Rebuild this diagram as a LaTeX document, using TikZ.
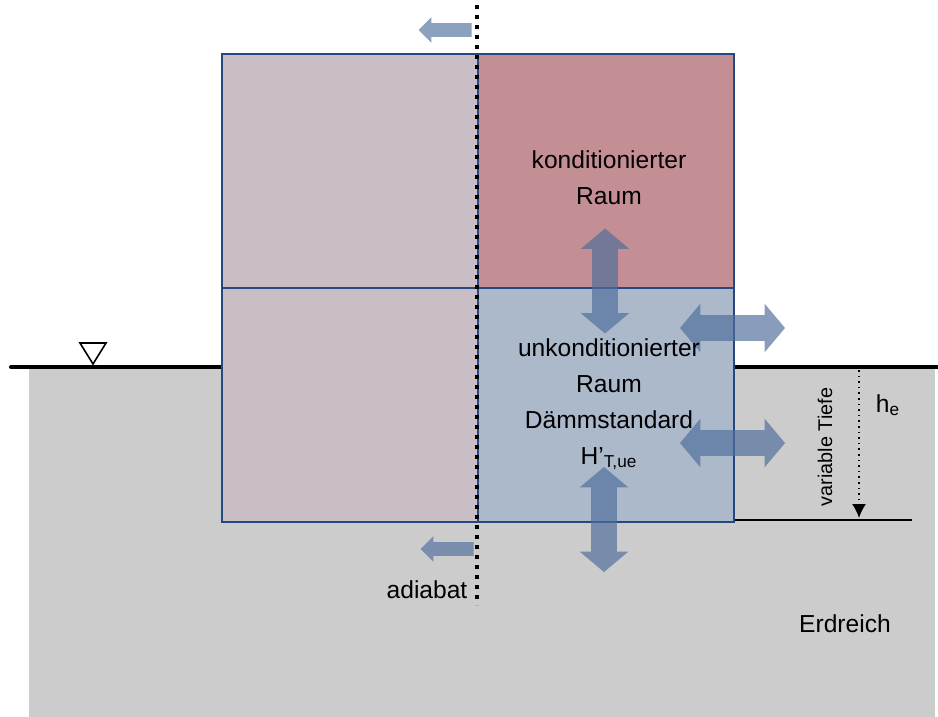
\documentclass[tikz,border=0pt]{standalone}
\usepackage{fontspec}
\setmainfont{Liberation Sans}
\usetikzlibrary{positioning, shapes.arrows, arrows.meta, calc}
\definecolor{wallblue}{RGB}{38,72,128}
\definecolor{roomgrey}{RGB}{202,190,198}
\definecolor{roomred}{RGB}{196,143,148}
\definecolor{roomblue}{RGB}{171,185,203}
\definecolor{soilgrey}{RGB}{204,204,204}
\definecolor{flowblue}{RGB}{78,110,155}

\begin{document}
\begin{tikzpicture}[x=0.5pt, y=-0.5pt,
	every node/.append style={font=\fontsize{12.3}{18}\selectfont, inner sep=0pt},
	cell/.style={draw=wallblue, line width=1pt, minimum width=128pt, minimum height=117pt, anchor=north west},
	flow/.style={double arrow, fill=flowblue, fill opacity=0.68, inner xsep=0pt, inner ysep=6.25pt, double arrow head extend=5.75pt, double arrow tip angle=100, minimum height=52.5pt},
	leak/.style={single arrow, fill=flowblue, fill opacity=0.65, inner xsep=0pt, inner ysep=3.25pt, single arrow head extend=3pt, minimum height=26.5pt, shape border rotate=180}]
	\useasboundingbox (0,0) rectangle (938,717);
	% ground
	\fill[soilgrey] (29,367) rectangle (935,717);
	\draw[line width=2pt, line cap=round] (11,367) -- (221,367);
	\draw[line width=2pt] (733,367) -- (938,367);
	\draw[line width=1pt] (733,520) -- (912,520);
	\draw[line width=0.8pt, fill=white] (80,343) -- (106,343) -- (93,364) -- cycle;
	% rooms
	\node[cell, fill=roomgrey] (lt) at (221,53) {};
	\node[cell, fill=roomred] (rt) at (477,53) {};
	\node[cell, fill=roomgrey] (lb) at (221,287) {};
	\node[cell, fill=roomblue] (rb) at (477,287) {};
	% adiabatic line
	\coordinate (adtop) at (477,5);
	\coordinate (adbot) at (477,605);
	\draw[line width=2pt, dash pattern=on 2pt off 3pt] (adtop) -- (adbot);
	% heat flows
	\node[flow, rotate=90] (up) at (605,281) {};
	\node[flow] (side1) at (732.5,328) {};
	\node[flow] (side2) at (732.5,443) {};
	\node[flow, rotate=90] (down) at (604,519.5) {};
	\node[leak] (leak1) at (448.5,30) {};
	\node[leak] (leak2) at (450.5,549) {};
	% depth
	\coordinate (dtop) at (859,370);
	\coordinate (dbot) at (859,518);
	\draw[line width=0.8pt, dotted, -{Latex[length=7pt, width=7pt]}] (dtop) -- (dbot);
	% labels
	\node[align=center] (cond) at (609,178) {konditionierter\\Raum};
	\node[align=center] (uncond) at (609,366) {unkonditionierter\\Raum};
	\node[align=center] (insul) at (609,440) {Dämmstandard\\H’\textsubscript{T,ue}};
	\node (he) at (888,405) {h\textsubscript{e}};
	\node[rotate=90, font=\fontsize{9.9}{12}\selectfont] (vartief) at (825,447) {variable Tiefe};
	\node (adiab) at (427,590) {adiabat};
	\node (soil) at (845,624) {Erdreich};
\end{tikzpicture}
\end{document}
